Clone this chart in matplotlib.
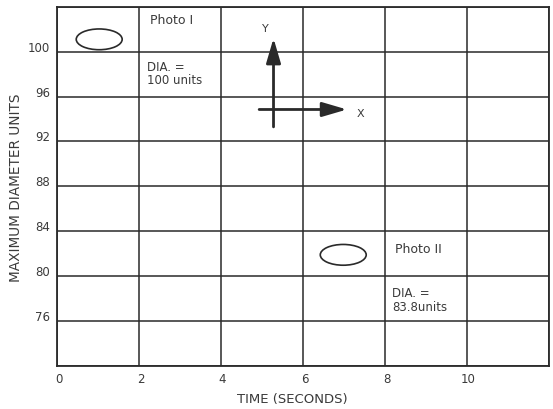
import matplotlib.pyplot as plt
import matplotlib.transforms as mtransforms
from matplotlib.patches import Ellipse

# Datos do gráfico
x_ticks = [0, 2, 4, 6, 8, 10]
x_grid = [0, 2, 4, 6, 8, 10, 12]
y_ticks = [76, 80, 84, 88, 92, 96, 100]
y_grid = [72, 76, 80, 84, 88, 92, 96, 100, 104]

photo_names = ['Photo I', 'Photo II']
photo_x = [1.03, 6.98]
photo_y = [101.1, 81.9]
photo_dia = ['100 units', '83.8units']
label_x = [2.27, 8.25]
label_y = [102.9, 82.5]
dia_y = [99.3, 79.1]

cor = '#2a2a2a'
cor_texto = '#3a3a3a'

fig = plt.figure(figsize=(5.53, 4.10), dpi=100)
ax = fig.add_axes([0.103, 0.105, 0.890, 0.876])
ax.set_xlim(0, 12)
ax.set_ylim(72, 104)

# Grade
for gx in x_grid:
    ax.axvline(gx, color=cor, lw=1.1)
for gy in y_grid:
    ax.axhline(gy, color=cor, lw=1.1)
for s in ax.spines.values():
    s.set_color(cor)
    s.set_linewidth(1.3)

ax.set_xticks(x_ticks)
ax.set_yticks(y_ticks)
ax.tick_params(length=0, labelsize=8.5, colors=cor_texto)
ax.tick_params(axis='y', pad=5)
ax.tick_params(axis='x', pad=4)

# deslocar rótulos como no original
off_y = mtransforms.ScaledTranslation(0, 6 / 100, fig.dpi_scale_trans)
for lab in ax.get_yticklabels():
    lab.set_transform(lab.get_transform() + off_y)
off_x = mtransforms.ScaledTranslation(1.5 / 100, 0, fig.dpi_scale_trans)
for lab in ax.get_xticklabels():
    lab.set_transform(lab.get_transform() + off_x)

ax.set_xlabel('TIME (SECONDS)', fontsize=9.5, color=cor_texto)
ax.set_ylabel('MAXIMUM DIAMETER UNITS', fontsize=9.8, color=cor_texto)
ax.xaxis.set_label_coords(0.478, -0.073)
ax.yaxis.set_label_coords(-0.068, 0.5)

# Elipses e textos
for i in range(len(photo_names)):
    ax.add_patch(Ellipse((photo_x[i], photo_y[i]), 1.12, 1.85,
                         fill=False, ec=cor, lw=1.2))
    ax.text(label_x[i], label_y[i], photo_names[i], fontsize=9,
            color=cor_texto, va='center')
    ax.text(label_x[i] - 0.08, dia_y[i], 'DIA. =\n' + photo_dia[i],
            fontsize=8.5, color=cor_texto, va='top', linespacing=1.05)

# Setas X e Y
seta = '-|>,head_length=0.75,head_width=0.22'
ax.annotate('', xy=(5.28, 101.2), xytext=(5.28, 93.3),
            arrowprops=dict(arrowstyle=seta, color=cor, lw=2,
                            mutation_scale=20, shrinkA=0, shrinkB=0))
ax.annotate('', xy=(7.07, 94.85), xytext=(4.93, 94.85),
            arrowprops=dict(arrowstyle=seta, color=cor, lw=2,
                            mutation_scale=20, shrinkA=0, shrinkB=0))
ax.text(5.08, 102.1, 'Y', fontsize=8, color=cor_texto, ha='center', va='center')
ax.text(7.39, 94.5, 'X', fontsize=8, color=cor_texto, ha='center', va='center')

fig.savefig('out.png', dpi=100)
